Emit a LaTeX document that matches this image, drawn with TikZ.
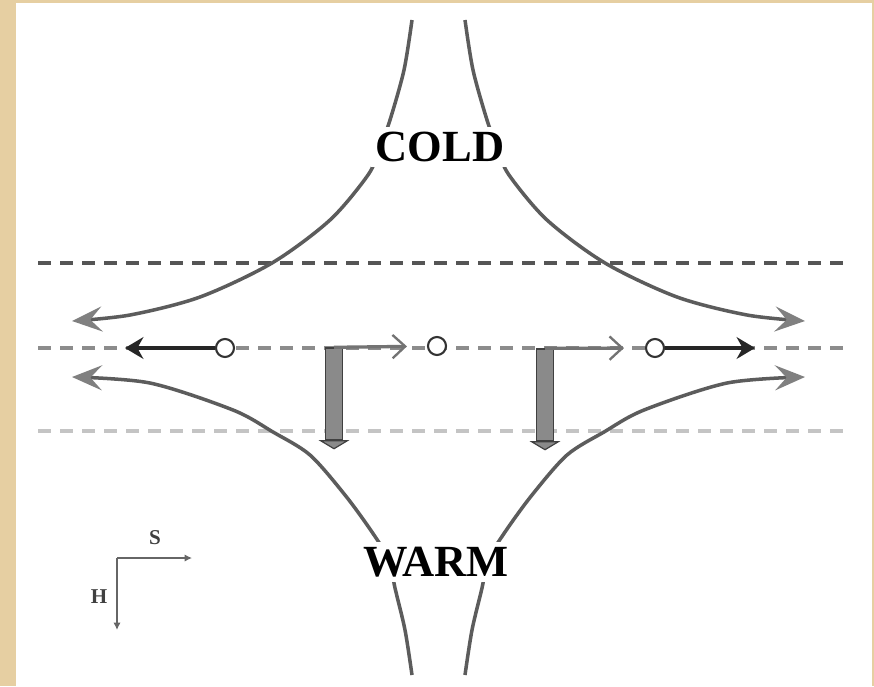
\documentclass[tikz,border=0pt]{standalone}
\usepackage{fontspec}
\setmainfont{Liberation Serif}
\usetikzlibrary{arrows.meta,positioning}
\definecolor{framebeige}{HTML}{E6CFA2}
\definecolor{curvegray}{HTML}{5C5C5C}
\definecolor{headgray}{HTML}{808080}
\definecolor{barfill}{HTML}{8A8A8A}
\definecolor{dashdark}{HTML}{555555}
\definecolor{dashmid}{HTML}{8C8C8C}
\definecolor{dashlight}{HTML}{C4C4C4}
\tikzset{
  stream/.style={
    line width=3pt,
    draw=curvegray,
    -{Stealth[length=9mm,width=7.5mm,inset=3.5mm,color=headgray]}
  },
  level/.style={line width=3pt, dash pattern=on 4mm off 2.6mm},
  ring/.style={
    circle,
    draw=black!80,
    line width=1.8pt,
    fill=white,
    minimum size=5.4mm,
    inner sep=0pt
  },
  drift/.style={-{Stealth[length=5.5mm,width=6.5mm]}, line width=3.4pt, draw=black!85},
  ageo/.style={-{Straight Barb[length=3.8mm,width=7mm,line width=2pt]}, line width=2.8pt, draw=headgray!90!black},
  upbar/.style={
    rectangle,
    draw=black!75,
    fill=barfill,
    line width=1.2pt,
    minimum width=5.2mm,
    minimum height=27.6mm,
    inner sep=0pt
  },
  airmass/.style={fill=white, inner sep=1.5mm, font=\fontsize{38}{40}\selectfont\bfseries},
  axis/.style={-{Latex[length=2.2mm,width=2.2mm]}, line width=2.2pt, draw=black!60},
  axislabel/.style={font=\fontsize{18}{19}\selectfont\bfseries, text=black!75}
}

\begin{document}
\begin{tikzpicture}[x=0.03cm, y=-0.03cm]

% Frame
\useasboundingbox (0,0) rectangle (874,686);
\fill[framebeige] (0,0) rectangle (874,686);
\fill[white] (16,3) rectangle (872,686);

% Dashed levels
\draw[level, draw=dashdark] (38,263) -- (852,263);
\draw[level, draw=dashmid] (38,348) -- (852,348);
\draw[level, draw=dashlight] (38,431) -- (852,431);

% Deformation streamlines
\draw[stream] plot[smooth] coordinates {(412,20) (404,70) (390,120) (379,150) (368,175)
  (330,220) (272,263) (200,297) (130,315) (72,321)};
\draw[stream] plot[smooth] coordinates {(465,20) (473,70) (487,120) (498,150) (509,175)
  (547,220) (605,263) (677,297) (747,315) (805,321)};
\draw[stream] plot[smooth] coordinates {(412,675) (405,630) (395,588) (389,560) (372,532)
  (345,495) (310,455) (273,432) (233,410) (150,383) (72,377)};
\draw[stream] plot[smooth] coordinates {(465,675) (472,630) (482,588) (488,560) (505,532)
  (532,495) (567,455) (604,432) (644,410) (727,383) (805,377)};

% Air masses
\node[airmass] (cold) at (440,147) {COLD};
\node[airmass] (warm) at (436,562) {WARM};

% Parcels on the central level
\node[ring] (p1) at (225,348) {};
\node[ring] (p2) at (437,346) {};
\node[ring] (p3) at (655,348) {};
\coordinate (wtip) at (125,348);
\coordinate (etip) at (755,348);
\draw[drift] (p1) -- (wtip);
\draw[drift] (p3) -- (etip);

% Vertical motion bars
\node[upbar] (b1) at (334,394) {};
\node[upbar] (b2) at (545,395) {};
\draw[draw=black!75, fill=barfill, line width=1pt]
  ([xshift=-1.2mm]b1.south west) -- ([xshift=1.2mm]b1.south east) -- ([yshift=-2.4mm]b1.south) -- cycle;
\draw[draw=black!75, fill=barfill, line width=1pt]
  ([xshift=-1.2mm]b2.south west) -- ([xshift=1.2mm]b2.south east) -- ([yshift=-2.4mm]b2.south) -- cycle;
\draw[ageo, shorten >=6mm] (b1.north) -- (p2);
\draw[ageo, shorten >=6.3mm] (b2.north) -- (p3);

% Axes
\coordinate (origin) at (117,558);
\coordinate (sdir) at (192,558);
\coordinate (hdir) at (117,630);
\draw[axis] (origin) -- (sdir);
\draw[axis] (origin) -- (hdir);
\node[axislabel] (slabel) at (155,538) {S};
\node[axislabel] (hlabel) at (99,597) {H};

\end{tikzpicture}
\end{document}
